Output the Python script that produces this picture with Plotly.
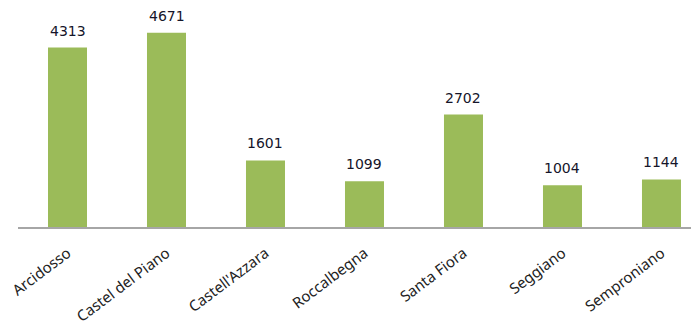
import plotly.graph_objects as go

categories = ["Arcidosso", "Castel del Piano", "Castell'Azzara", "Roccalbegna",
              "Santa Fiora", "Seggiano", "Semproniano"]
values = [4313, 4671, 1601, 1099, 2702, 1004, 1144]

fig = go.Figure()
fig.add_trace(go.Bar(x=categories, y=values, marker_color="#9BBB59",
                     marker_line_width=0, width=0.394))

for c, v in zip(categories, values):
    fig.add_annotation(x=c, y=v, text=str(v), showarrow=False, yanchor="bottom",
                       yshift=7, font=dict(family="DejaVu Sans", size=14, color="#15152a"))

fig.update_layout(
    width=691, height=316,
    margin=dict(l=10, r=0, t=11, b=97, autoexpand=False),
    paper_bgcolor="white", plot_bgcolor="white",
    showlegend=False,
    xaxis=dict(range=[-0.5, 6.379], showline=True, linecolor="#A6A6A6", linewidth=1.5,
               tickangle=-37, ticks="", ticklabelstandoff=10, automargin=False,
               tickfont=dict(family="Noto Sans", size=15, color="#222222"),
               showgrid=False),
    yaxis=dict(range=[0, 5000], visible=False, showgrid=False, automargin=False),
)
fig.write_html("out.html")
